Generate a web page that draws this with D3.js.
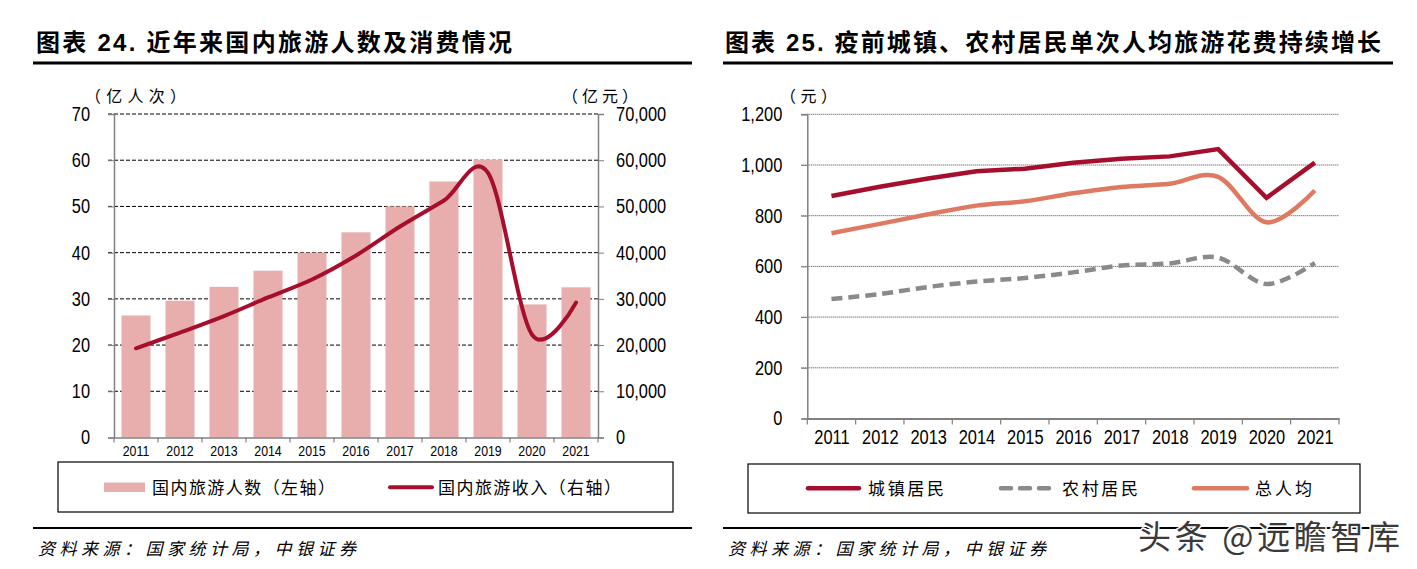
<!DOCTYPE html>
<html><head><meta charset="utf-8">
<script src="https://cdn.jsdelivr.net/npm/d3@7"></script>
<style>
body{margin:0;background:#fff;}
svg{display:block;}
.cjk{font-family:"Noto Sans CJK SC","Noto Sans",sans-serif;}
.num{font-family:"Liberation Sans",Arial,sans-serif;}
</style></head><body>
<svg id="c" width="1417" height="569"></svg>
<script>
// ---------- data ----------
const years = ["2011","2012","2013","2014","2015","2016","2017","2018","2019","2020","2021"];
const tourists = [26.4, 29.6, 32.6, 36.1, 40.0, 44.4, 50.0, 55.4, 60.1, 28.8, 32.5];      // 亿人次
const revenue = [19305, 22706, 26276, 30312, 34195, 39390, 45661, 51278, 57251, 22286, 29191]; // 亿元
const urban = [877.8, 914.5, 946.6, 975.4, 985.5, 1009.1, 1024.6, 1034.0, 1062.6, 870.3, 1009.6];
const rural = [471.4, 491.0, 518.9, 540.2, 554.2, 576.4, 603.3, 611.9, 634.7, 530.5, 613.6];
const total = [731.0, 767.9, 805.5, 839.7, 857.0, 888.2, 913.0, 925.8, 953.3, 774.1, 899.3];
const leftTicks = [0,10,20,30,40,50,60,70];
const rightTicks = [0,10000,20000,30000,40000,50000,60000,70000];
const spendTicks = [0,200,400,600,800,1000,1200];

const C = {bar:"#E8AEAD", red:"#A50F2D", orange:"#DE7A62", gray:"#8A8A8A", axis:"#808080"};
const svg = d3.select("#c");

function txt(x, y, s, o) {
  const t = svg.append("text").attr("x", x).attr("y", y).text(s)
    .attr("class", o.cls || "cjk").style("font-size", o.size + "px").attr("fill", o.fill || "#000");
  if (o.weight) t.style("font-weight", o.weight);
  if (o.italic) t.style("font-style", "italic");
  if (o.tl) t.attr("textLength", o.tl).attr("lengthAdjust", "spacing");
  if (o.anchor) t.attr("text-anchor", o.anchor);
  return t;
}
function title(x, numStr, rest, tl) {
  const t = svg.append("text").attr("x", x).attr("y", 51).style("font-size", "24px")
    .style("font-weight", "700").attr("textLength", tl).attr("lengthAdjust", "spacing");
  t.append("tspan").attr("class", "cjk").text("图表");
  t.append("tspan").style("font-family", "'Liberation Sans',Arial,sans-serif").text(" " + numStr + " ");
  t.append("tspan").attr("class", "cjk").text(rest);
}
function rule(x1, x2, y, w) {
  svg.append("line").attr("x1", x1).attr("x2", x2).attr("y1", y).attr("y2", y)
    .attr("stroke", "#000").attr("stroke-width", w);
}

// ---------- headers / footers ----------
title(36, "24.", "近年来国内旅游人数及消费情况", 476);
title(725, "25.", "疫前城镇、农村居民单次人均旅游花费持续增长", 656);
rule(33, 692, 63, 3);
rule(723, 1393, 63, 3);
rule(33, 692, 528, 2);
rule(723, 1393, 528, 2);
txt(38, 554.5, "资料来源：国家统计局，中银证券", {size:17, italic:true, tl:318});
txt(728, 554.5, "资料来源：国家统计局，中银证券", {size:17, italic:true, tl:318});

// ---------- LEFT CHART ----------
const L = {x0:114, x1:598, y0:114, y1:437.5};
const xL = d3.scaleBand().domain(years).range([L.x0, L.x1]).paddingInner(0.34).paddingOuter(0.17);
const yL = d3.scaleLinear().domain([0, 70]).range([L.y1, L.y0]);
const yL2 = d3.scaleLinear().domain([0, 70000]).range([L.y1, L.y0]);

const gL = svg.append("g");
gL.selectAll(".grid").data(leftTicks.filter(d => d > 0)).join("line")
  .attr("x1", L.x0 - 6).attr("x2", L.x1).attr("y1", d => yL(d)).attr("y2", d => yL(d))
  .attr("stroke", "#000").attr("stroke-width", 1).attr("stroke-dasharray", "4,2");
gL.selectAll(".bar").data(years).join("rect")
  .attr("x", d => xL(d)).attr("width", xL.bandwidth())
  .attr("y", (d, i) => yL(tourists[i])).attr("height", (d, i) => yL(0) - yL(tourists[i]))
  .attr("fill", C.bar);
const axL = gL.append("g").attr("transform", `translate(${L.x0},0)`)
  .call(d3.axisLeft(yL).tickValues(leftTicks).tickSize(6).tickPadding(18).tickFormat(d3.format("d")));
const axR = gL.append("g").attr("transform", `translate(${L.x1},0)`)
  .call(d3.axisRight(yL2).tickValues(rightTicks).tickSize(6).tickPadding(12).tickFormat(d3.format(",")));
[axL, axR].forEach(a => {
  a.select(".domain").attr("stroke", C.axis).attr("stroke-width", 1.5);
  a.selectAll(".tick line").attr("stroke", C.axis);
  a.selectAll("text").attr("class", "num").style("font-size", "20px").attr("fill", "#000");
});
const axB = gL.append("g").attr("transform", `translate(0,${L.y1})`)
  .call(d3.axisBottom(xL).tickSize(0).tickPadding(8));
axB.select(".domain").attr("stroke", C.axis).attr("stroke-width", 1.5);
axB.selectAll("text").attr("class", "num").style("font-size", "15px").attr("fill", "#000");
d3.range(years.length + 1).forEach(i => {
  const x = xL.range()[0] + i * xL.step();
  gL.append("line").attr("x1", x).attr("x2", x).attr("y1", L.y1).attr("y2", L.y1 + 5)
    .attr("stroke", C.axis).attr("stroke-width", 1.2);
});
const lineL = d3.line().x((d, i) => xL(years[i]) + xL.bandwidth() / 2).y(d => yL2(d))
  .curve(d3.curveCatmullRom.alpha(0));
gL.append("path").attr("d", lineL(revenue)).attr("fill", "none")
  .attr("stroke", C.red).attr("stroke-width", 4).attr("stroke-linecap", "round");
txt(85, 102, "（亿人次）", {size:16, tl:101});
txt(562, 102, "（亿元）", {size:16, tl:76});
svg.append("rect").attr("x", 58).attr("y", 462).attr("width", 615).attr("height", 50)
  .attr("fill", "none").attr("stroke", "#000").attr("stroke-width", 1.2);
svg.append("rect").attr("x", 104).attr("y", 482.5).attr("width", 41).attr("height", 9.5).attr("fill", C.bar);
txt(152, 493.5, "国内旅游人数（左轴）", {size:17, tl:183});
svg.append("line").attr("x1", 390).attr("x2", 432).attr("y1", 487.3).attr("y2", 487.3)
  .attr("stroke", C.red).attr("stroke-width", 4).attr("stroke-linecap", "round");
txt(438, 493.5, "国内旅游收入（右轴）", {size:17, tl:183});

// ---------- RIGHT CHART ----------
const R = {x0:807.3, x1:1339, y0:114.3, y1:418.5};
const xR = d3.scalePoint().domain(years).range([R.x0, R.x1]).padding(0.5);
const yR = d3.scaleLinear().domain([0, 1200]).range([R.y1, R.y0]);
const gR = svg.append("g");
gR.selectAll(".grid").data(spendTicks.filter(d => d > 0)).join("line")
  .attr("x1", R.x0 - 6).attr("x2", R.x1).attr("y1", d => yR(d)).attr("y2", d => yR(d))
  .attr("stroke", "#444").attr("stroke-width", 1).attr("stroke-dasharray", "1,1");
const axRL = gR.append("g").attr("transform", `translate(${R.x0},0)`)
  .call(d3.axisLeft(yR).tickValues(spendTicks).tickSize(6).tickPadding(19).tickFormat(d3.format(",")));
axRL.select(".domain").attr("stroke", C.axis).attr("stroke-width", 1.5);
axRL.selectAll(".tick line").attr("stroke", C.axis);
axRL.selectAll("text").attr("class", "num").style("font-size", "20px").attr("fill", "#000");
const axRB = gR.append("g").attr("transform", `translate(0,${R.y1})`)
  .call(d3.axisBottom(xR).tickSize(0).tickPadding(11));
axRB.select(".domain").attr("stroke", C.axis).attr("stroke-width", 1.8);
axRB.selectAll("text").attr("class", "num").style("font-size", "20px").attr("fill", "#000");
const stepR = xR.step();
d3.range(years.length + 1).forEach(i => {
  const x = R.x0 + i * stepR;
  gR.append("line").attr("x1", x).attr("x2", x).attr("y1", R.y1).attr("y2", R.y1 + 6)
    .attr("stroke", C.axis).attr("stroke-width", 1.2);
});
const lineSmooth = d3.line().x((d, i) => xR(years[i])).y(d => yR(d)).curve(d3.curveCatmullRom.alpha(0));
const lineStraight = d3.line().x((d, i) => xR(years[i])).y(d => yR(d));
gR.append("path").attr("d", lineSmooth(rural)).attr("fill", "none").attr("stroke", C.gray)
  .attr("stroke-width", 4.5).attr("stroke-dasharray", "11,6");
gR.append("path").attr("d", lineSmooth(total)).attr("fill", "none").attr("stroke", C.orange)
  .attr("stroke-width", 4.5);
gR.append("path").attr("d", lineStraight(urban)).attr("fill", "none").attr("stroke", C.red)
  .attr("stroke-width", 4.5).attr("stroke-linejoin", "miter");
txt(780, 102, "（元）", {size:16, tl:57});
svg.append("rect").attr("x", 748).attr("y", 464).attr("width", 612).attr("height", 49)
  .attr("fill", "none").attr("stroke", "#000").attr("stroke-width", 1.2);
function legLine(x1, x2, col, dash) {
  const l = svg.append("line").attr("x1", x1).attr("x2", x2).attr("y1", 488.3).attr("y2", 488.3)
    .attr("stroke", col).attr("stroke-width", 4.5).attr("stroke-linecap", "round");
  if (dash) l.attr("stroke-dasharray", dash);
}
legLine(808, 859, C.red);
txt(868, 494.5, "城镇居民", {size:17, tl:76});
legLine(1001, 1049, C.gray, "10,9");
txt(1062, 494.5, "农村居民", {size:17, tl:76});
legLine(1194, 1247, C.orange);
txt(1255, 494.5, "总人均", {size:17, tl:57});

// condensed numerals (Arial-Narrow look): squeeze glyphs horizontally
svg.selectAll("text.num").each(function() {
  const w = this.getComputedTextLength();
  d3.select(this).attr("textLength", (w * 0.82).toFixed(1)).attr("lengthAdjust", "spacingAndGlyphs");
});

// watermark
svg.append("text").attr("x", 1138).attr("y", 549).text("头条 @远瞻智库")
  .attr("class", "cjk").style("font-size", "33px").attr("fill", "#3a3a3a")
  .attr("stroke", "#fff").attr("stroke-width", 3).style("paint-order", "stroke")
  .attr("textLength", 262).attr("lengthAdjust", "spacing");
</script>
</body></html>
